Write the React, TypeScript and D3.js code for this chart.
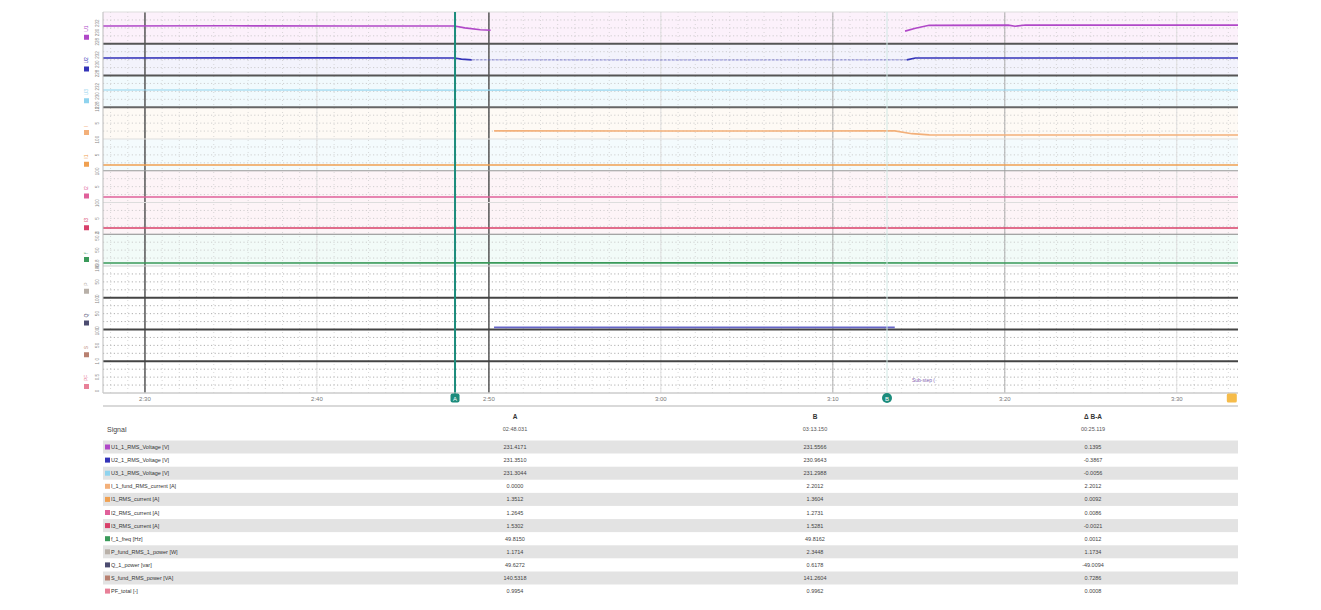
import * as d3 from 'd3';

// ---- data ----
const seriesNames = [
  'U1_1_RMS_Voltage [V]',
  'U2_1_RMS_Voltage [V]',
  'U3_1_RMS_Voltage [V]',
  'I_1_fund_RMS_current [A]',
  'I1_RMS_current [A]',
  'I2_RMS_current [A]',
  'I3_RMS_current [A]',
  'f_1_freq [Hz]',
  'P_fund_RMS_1_power [W]',
  'Q_1_power [var]',
  'S_fund_RMS_power [VA]',
  'PF_total [-]',
];
const seriesColors = ['#b048c8', '#3434b8', '#8fd3ee', '#f3b07a', '#f0a050', '#e0609a', '#d8406a', '#3a9a5a', '#b8b0a8', '#4c4c70', '#b88070', '#e88098'];
const laneTints = ['#fcf1fb', '#f3f3fc', '#f1fafd', '#fefaf5', '#f4fbfd', '#fdf4f7', '#fdf4f7', '#f2fbf8', '#ffffff', '#ffffff', '#ffffff', '#ffffff'];
const laneSeparators = ['#555', '#555', '#666', '#ddd', '#999', '#ddd', '#888', '#ccc', '#444', '#444', '#444', '#ccc'];
const laneDomains = [[228, 234], [228, 234], [228, 234], [0, 10], [0, 10], [0, 10], [0, 10], [49.8, 50.2], [0, 100], [0, 100], [0, 100], [0, 1]];

const timeDomain = [147.56, 213.56];
const tickTimes = [150, 160, 170, 180, 190, 200, 210];
const darkGridTimes = [150, 170];
const midGridTimes = [190, 200];
const cursorA = 168.03;
const cursorB = 193.15;
const cursorEnd = 213.2;

// traces: [time s, value], null = gap
const traceU1 = [[147.56, 231.42], [155, 231.45], [162, 231.4], [168.0, 231.42], [168.6, 231.0], [169.5, 230.6], [170.1, 230.5], null, [194.2, 230.3], [194.8, 230.9], [195.6, 231.55], [200.2, 231.6], [200.6, 231.35], [201.2, 231.62], [213.56, 231.6]];
const traceU2 = [[147.56, 231.35], [160, 231.38], [168.0, 231.35], [168.4, 231.1], [169.0, 230.95], null, [194.3, 230.95], [194.8, 231.35], [213.56, 231.36]];
const traceU2Mid = [[169.0, 230.95], [180, 230.92], [194.3, 230.95]];
const traceU3 = [[147.56, 231.3], [170, 231.28], [190, 231.3], [213.56, 231.3]];
const traceIfund = [[170.3, 2.2], [180, 2.18], [193.6, 2.2], [194.6, 1.2], [195.6, 0.75], [213.56, 0.72]];
const traceI1 = [[147.56, 1.35], [180, 1.36], [213.56, 1.35]];
const traceI2 = [[147.56, 1.26], [180, 1.27], [213.56, 1.26]];
const traceI3 = [[147.56, 1.53], [180, 1.52], [213.56, 1.53]];
const traceFreq = [[147.56, 49.815], [180, 49.816], [213.56, 49.815]];
const traceQ = [[170.3, 0.6], [180, 0.55], [193.6, 0.6]];
const traces = [traceU1, traceU2, traceU3, traceIfund, traceI1, traceI2, traceI3, traceFreq, null, traceQ, null, null];

const tableTimes = ['02:48.031', '03:13.150', '00:25.119'];
const valuesA = ['231.4171', '231.3510', '231.3044', '0.0000', '1.3512', '1.2645', '1.5302', '49.8150', '1.1714', '49.6272', '140.5318', '0.9954'];
const valuesB = ['231.5566', '230.9643', '231.2988', '2.2012', '1.3604', '1.2731', '1.5281', '49.8162', '2.3448', '0.6178', '141.2604', '0.9962'];
const valuesDelta = ['0.1395', '-0.3867', '-0.0056', '2.2012', '0.0092', '0.0086', '-0.0021', '0.0012', '1.1734', '-49.0094', '0.7286', '0.0008'];

// ---- layout ----
const W = 1321;
const H = 610;
const plotLeft = 103;
const plotRight = 1238;
const plotTop = 12;
const plotBottom = 393;
const font = '"Liberation Sans", Arial, sans-serif';

const x = d3.scaleLinear().domain(timeDomain).range([plotLeft, plotRight]);
const lanes = d3.scaleBand<number>().domain(d3.range(12)).range([plotTop, plotBottom]);
const laneH = lanes.bandwidth();
const laneY = (i: number) => d3.scaleLinear().domain(laneDomains[i]).range([lanes(i)! + laneH - 2, lanes(i)! + 2]);

const fmtTime = (t: number) => `${Math.floor(t / 60)}:${String(t % 60).padStart(2, '0')}`;
const minorTimes = d3.range(148, 214, 1);

const linePath = (tr: any[], i: number) => {
  const y = laneY(i);
  const pts = tr.map((p) => (p ? p : [NaN, NaN]));
  const line = d3.line<number[]>().defined((d) => !isNaN(d[0])).x((d) => x(d[0])).y((d) => y(d[1]));
  return line(pts) || '';
};

const App = () => {
  return (
    <svg width={W} height={H} style={{ position: 'absolute', left: 0, top: 0, background: '#fff' }} fontFamily={font}>
      {/* lane backgrounds */}
      {d3.range(12).map((i) => (
        <rect key={'bg' + i} x={plotLeft} y={lanes(i)} width={plotRight - plotLeft} height={laneH} fill={laneTints[i]} />
      ))}

      {/* minor dotted grid */}
      {minorTimes.map((t) => (
        <line key={'mv' + t} x1={x(t)} x2={x(t)} y1={plotTop} y2={plotBottom} stroke="#c8c8c8" strokeWidth={0.7} strokeDasharray="1 3" />
      ))}
      {d3.range(12).map((i) =>
        [0.25, 0.5, 0.75].map((f) => (
          <line key={'mh' + i + f} x1={plotLeft} x2={plotRight} y1={lanes(i)! + laneH * f} y2={lanes(i)! + laneH * f}
            stroke={i >= 8 ? '#9a9a9a' : '#c4c4c4'} strokeWidth={0.8} strokeDasharray="1.2 2.4" />
        ))
      )}

      {/* major vertical grid */}
      {tickTimes.map((t) => (
        <line key={'gv' + t} x1={x(t)} x2={x(t)} y1={plotTop} y2={plotBottom}
          stroke={darkGridTimes.includes(t) ? '#555' : midGridTimes.includes(t) ? '#aaa' : '#ddd'}
          strokeWidth={darkGridTimes.includes(t) ? 1.5 : 1} />
      ))}

      {/* lane separators */}
      {d3.range(12).map((i) => (
        <line key={'sep' + i} x1={plotLeft} x2={plotRight} y1={lanes(i)! + laneH} y2={lanes(i)! + laneH}
          stroke={laneSeparators[i]} strokeWidth={i < 3 || (i >= 8 && i < 11) ? 2 : 1.2} />
      ))}
      <line x1={plotLeft} x2={plotRight} y1={plotTop} y2={plotTop} stroke="#ddd" />

      {/* traces */}
      {traces.map((tr, i) => {
        if (!tr) return null;
        return (
          <path key={'tr' + i} d={linePath(tr, i)} fill="none" stroke={i === 9 ? '#6464c8' : seriesColors[i]}
            strokeWidth={i === 2 ? 1.2 : 1.6} />
        );
      })}
      <path d={linePath(traceU2Mid, 1)} fill="none" stroke="#5a5ac0" strokeWidth={1} strokeOpacity={0.7} strokeDasharray="3 1" />

      {/* annotation in last lane */}
      <text x={x(194.6)} y={lanes(11)! + laneH * 0.66} fontSize={5} fill="#8060b0">Sub-step (</text>

      {/* left axis */}
      <line x1={plotLeft} x2={plotLeft} y1={plotTop} y2={plotBottom} stroke="#bbb" />
      {d3.range(12).map((i) => {
        const y = laneY(i);
        const top = lanes(i)!;
        return (
          <g key={'ax' + i}>
            <rect x={84} y={top + laneH - 9} width={5} height={5} fill={seriesColors[i]} />
            <text transform={`translate(88, ${top + laneH - 12}) rotate(-90)`} fontSize={5} fill={seriesColors[i]}>
              {seriesNames[i].split('_')[0]}
            </text>
            {y.ticks(2).slice(0, 3).map((v) => (
              <text key={v} transform={`translate(99, ${y(v)}) rotate(-90)`} fontSize={4.5} fill="#888" textAnchor="middle">
                {v}
              </text>
            ))}
          </g>
        );
      })}

      {/* cursors */}
      <line x1={x(cursorA)} x2={x(cursorA)} y1={plotTop} y2={plotBottom + 4} stroke="#1c8c7c" strokeWidth={2} />
      <line x1={x(cursorB)} x2={x(cursorB)} y1={plotTop} y2={plotBottom} stroke="#cfe8e4" strokeWidth={1} />

      {/* x axis */}
      <line x1={plotLeft} x2={plotRight} y1={plotBottom} y2={plotBottom} stroke="#ccc" />
      {tickTimes.map((t) => (
        <text key={'xt' + t} x={x(t)} y={401} fontSize={6} fill="#777" textAnchor="middle">{fmtTime(t)}</text>
      ))}
      <rect x={x(cursorA) - 4.5} y={393.5} width={9} height={9} rx={2} fill="#1c8c7c" />
      <text x={x(cursorA)} y={400.5} fontSize={6} fill="#fff" textAnchor="middle">A</text>
      <circle cx={x(cursorB)} cy={398} r={5} fill="#1c8c7c" />
      <text x={x(cursorB)} y={400.5} fontSize={6} fill="#fff" textAnchor="middle">B</text>
      <rect x={x(cursorEnd) - 5} y={393.5} width={10} height={9} rx={1.5} fill="#f6bc4a" />

      {/* table */}
      <line x1={plotLeft} x2={plotRight} y1={406} y2={406} stroke="#ccc" strokeWidth={1.5} />
      <text x={515} y={419} fontSize={6.5} fontWeight="bold" fill="#333" textAnchor="middle">A</text>
      <text x={815} y={419} fontSize={6.5} fontWeight="bold" fill="#333" textAnchor="middle">B</text>
      <text x={1093} y={419} fontSize={6.5} fontWeight="bold" fill="#333" textAnchor="middle">Δ B-A</text>
      <text x={107} y={432} fontSize={7} fill="#444">Signal</text>
      {tableTimes.map((s, j) => (
        <text key={'tt' + j} x={[515, 815, 1093][j]} y={431} fontSize={5.5} fill="#555" textAnchor="middle">{s}</text>
      ))}
      {seriesNames.map((name, i) => {
        const cy = 447 + i * 13.1;
        return (
          <g key={'row' + i}>
            {i % 2 === 0 && <rect x={plotLeft} y={cy - 6.5} width={plotRight - plotLeft} height={13} fill="#e3e3e3" />}
            <rect x={105} y={cy - 2.5} width={5} height={5} fill={seriesColors[i]} />
            <text x={111} y={cy + 2} fontSize={5.5} fill="#333">{name}</text>
            <text x={515} y={cy + 2} fontSize={5.5} fill="#444" textAnchor="middle">{valuesA[i]}</text>
            <text x={815} y={cy + 2} fontSize={5.5} fill="#444" textAnchor="middle">{valuesB[i]}</text>
            <text x={1093} y={cy + 2} fontSize={5.5} fill="#444" textAnchor="middle">{valuesDelta[i]}</text>
          </g>
        );
      })}
    </svg>
  );
};

export default App;
